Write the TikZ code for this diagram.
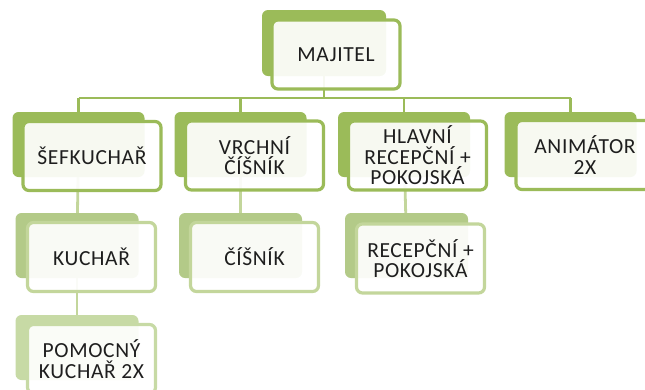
\documentclass[tikz,border=0pt]{standalone}
\usepackage{fontspec}
\setmainfont{Carlito}
\newfontfamily\boxfont[LetterSpace=3]{Carlito}
\usetikzlibrary{positioning,calc,backgrounds}
\definecolor{greenbox}{HTML}{9BBB59}
\definecolor{greenmid}{HTML}{B3CA88}
\definecolor{greenline}{HTML}{C3D69B}
\definecolor{greenpale}{HTML}{C7DAA5}
\definecolor{inktext}{HTML}{1E1E1E}
\tikzset{
   backbox/.style = {rectangle, rounded corners=6pt, inner sep=0pt,
                     fill=#1, minimum width=132pt, minimum height=65pt},
  frontbox/.style = {rectangle, rounded corners=6pt, inner sep=0pt,
                     draw=#1, line width=3.2pt, fill=white, fill opacity=0.92,
                     text opacity=1, text=inktext, align=center,
                     minimum width=138pt, minimum height=69pt,
                     font=\boxfont\fontsize{21.5}{20.5}\selectfont},
    small/.style = {minimum width=123pt},   % level-2 backs
   smallf/.style = {minimum width=128pt},   % level-2 fronts
      bus/.style = {draw=greenbox, line width=2.8pt},
     link/.style = {draw=greenline, line width=2.8pt},
}

\begin{document}
\begin{tikzpicture}[x=1pt,y=-1pt]
\useasboundingbox (0,0) rectangle (645,389);
\clip (0,0) rectangle (645,389);
% back plates
\node[backbox=greenbox, minimum width=124pt, minimum height=66pt] (majB) at (324,43) {};
\node[backbox=greenbox] (sefB) at (78.5,144.5) {};
\node[backbox=greenbox] (vrcB) at (240.5,144.5) {};
\node[backbox=greenbox] (hlaB) at (404,144.5) {};
\node[backbox=greenbox] (aniB) at (570.5,144.5) {};
\node[backbox=greenmid, small] (kucB) at (77,245.5) {};
\node[backbox=greenmid, small] (cisB) at (240.5,245.5) {};
\node[backbox=greenmid, small] (recB) at (406.5,245.5) {};
\node[backbox=greenpale, small] (pomB) at (77,347.5) {};
% front boxes
\node[frontbox=greenbox, minimum width=128pt] (maj) at ([shift={(12,11.5)}]majB.center) {MAJITEL};
\node[frontbox=greenbox] (sef) at ([shift={(13.5,11.5)}]sefB.center) {ŠEFKUCHAŘ};
\node[frontbox=greenbox] (vrc) at ([shift={(14,11)}]vrcB.center) {VRCHNÍ\\ČÍŠNÍK};
\node[frontbox=greenbox] (hla) at ([shift={(13.5,11)}]hlaB.center) {HLAVNÍ\\RECEPČNÍ +\\POKOJSKÁ};
\node[frontbox=greenbox] (ani) at ([shift={(14.5,10.5)}]aniB.center) {ANIMÁTOR\\2X};
\node[frontbox=greenline, smallf] (kuc) at ([shift={(14.5,11.5)}]kucB.center) {KUCHAŘ};
\node[frontbox=greenline, smallf] (cis) at ([shift={(14,11.5)}]cisB.center) {ČÍŠNÍK};
\node[frontbox=greenline, smallf] (rec) at ([shift={(14,13)}]recB.center) {RECEPČNÍ +\\POKOJSKÁ};
\node[frontbox=greenpale, smallf] (pom) at ([shift={(14.5,11.5)}]pomB.center) {POMOCNÝ\\KUCHAŘ 2X};
% connectors behind
\begin{pgfonlayer}{background}
  \coordinate (busL) at (sefB.center |- 0,98);
  \coordinate (busR) at (aniB.center |- 0,98);
  \path[bus] (majB.center) -- (majB.center |- busL);
  \path[bus] (busL) -- (busR);
  \foreach \n in {sefB,vrcB,hlaB,aniB}
    \path[bus] (\n.center) -- (\n.center |- busL);
  \path[link] (sefB) -- (kucB);
  \path[link] (kucB) -- (pomB);
  \path[link] (vrcB) -- (cisB);
  \path[link] (hlaB) -- (recB);
\end{pgfonlayer}
\end{tikzpicture}
\end{document}
